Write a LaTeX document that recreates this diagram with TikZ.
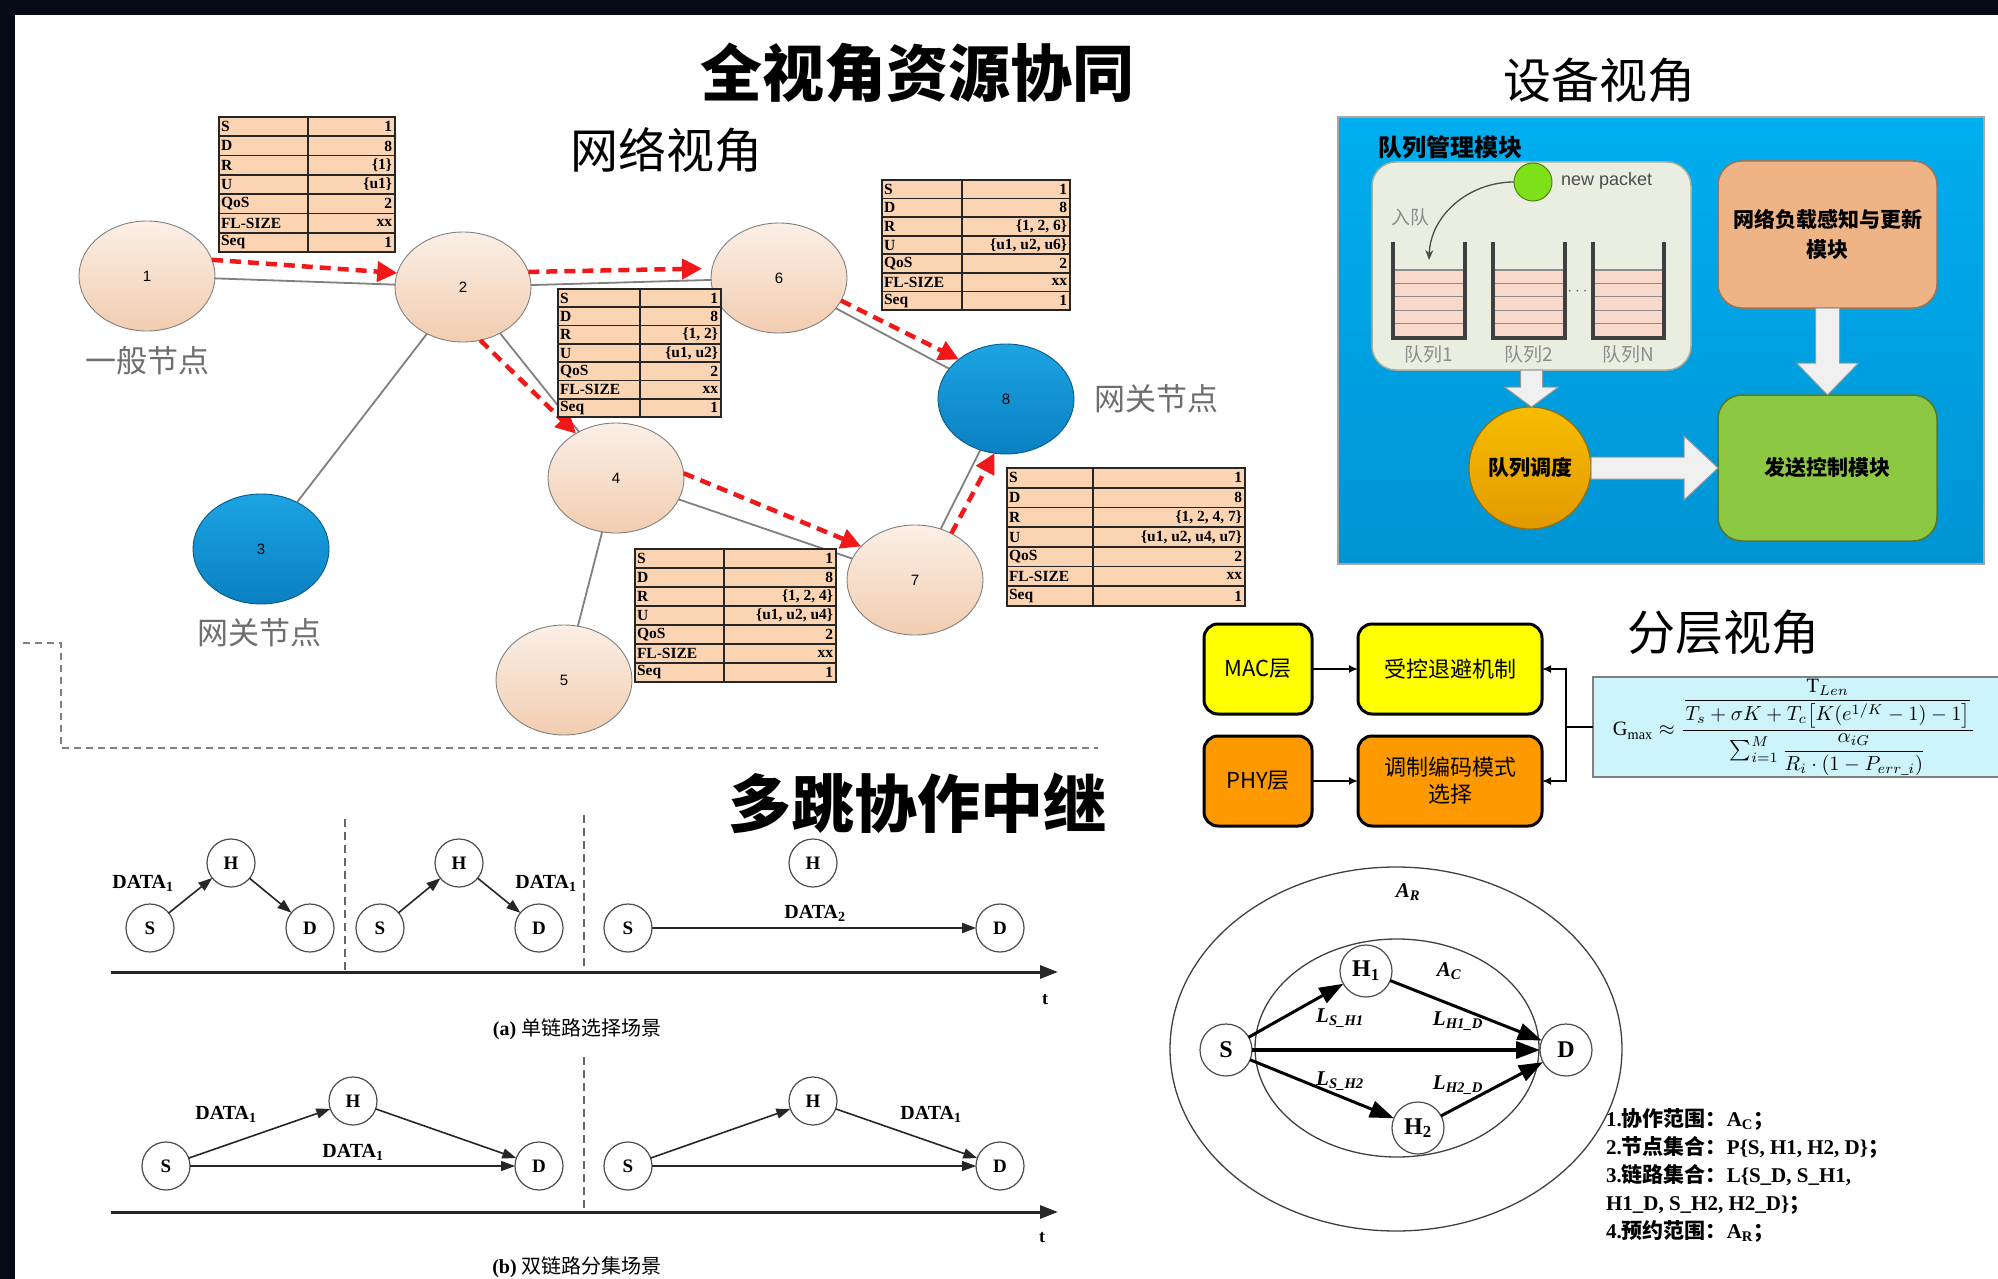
\documentclass[tikz,border=0pt]{standalone}
\usepackage{fontspec}
\usepackage{amsmath}
\usepackage{graphicx}
\setmainfont{Liberation Serif}
\setsansfont{Liberation Sans}
\newfontfamily\cjk{Noto Sans CJK SC}
\usetikzlibrary{shapes.geometric,arrows.meta,calc}

\definecolor{bgdark}{HTML}{060A16}
\definecolor{nodeTop}{HTML}{FBEFE6}
\definecolor{nodeBot}{HTML}{F2CDB0}
\definecolor{gwTop}{HTML}{1CA4E2}
\definecolor{gwBot}{HTML}{0A80C2}
\definecolor{flowred}{HTML}{F01818}
\definecolor{tabfill}{HTML}{FBD4B4}
\definecolor{panelTop}{HTML}{00AEEF}
\definecolor{panelBot}{HTML}{0094D4}
\definecolor{qfill}{HTML}{EAEEE0}
\definecolor{qdraw}{HTML}{A8AE9C}
\definecolor{stripe}{HTML}{F8D9CB}
\definecolor{loadbox}{HTML}{EEB486}
\definecolor{sendbox}{HTML}{8DC843}
\definecolor{goldTop}{HTML}{F7BC00}
\definecolor{goldBot}{HTML}{E29A00}
\definecolor{pktgreen}{HTML}{7EE019}
\definecolor{layY}{HTML}{FFFF00}
\definecolor{layO}{HTML}{FF9900}
\definecolor{formfill}{HTML}{CCF4FA}
\definecolor{labelgray}{HTML}{6E6E6E}

\newcommand\fs[1]{\fontsize{#1}{#1}\selectfont}
\newcommand\cb[1]{{\cjk\bfseries #1}}

% packet header table: name, x0, y0, x1, y1, column split, route set, user set
\newcommand\pkttab[8]{%
  \pgfmathsetmacro\tabW{#4-#2}\pgfmathsetmacro\tabH{#5-#3}\pgfmathsetmacro\tabR{(#5-#3)/7}%
  \node[tabcell, anchor=north west, minimum width=\tabW pt, minimum height=\tabH pt] (#1) at (#2,#3) {};
  \foreach \k in {1,...,6}{\draw[tabline] (#2,{#3+\k*\tabR}) -- (#4,{#3+\k*\tabR});}
  \draw[tabline] (#6,#3) -- (#6,#5);
  \draw[tabframe] (#1.north west) rectangle (#1.south east);
  \foreach \l/\v [count=\k] in {S/1, D/8, R/{#7}, U/{#8}, QoS/2, FL-SIZE/xx, Seq/1}{
    \node[tabtxt, anchor=west] at (#2+2,{#3+(\k-0.5)*\tabR}) {\l};
    \node[tabtxt, anchor=east] at (#4-3,{#3+(\k-0.5)*\tabR}) {\v};
  }
}

% queue stack: x0, x1
\newcommand\qstack[2]{%
  \fill[stripe] (#1,270) rectangle (#2,337);
  \foreach \k in {1,...,4}{\draw[black!45, line width=1.2pt] (#1,{270+\k*13.4}) -- (#2,{270+\k*13.4});}
  \draw[black!45, line width=1.2pt] (#1,270) -- (#2,270);
  \draw[black!75, line width=3.5pt] (#1,242) -- (#1,338) -- (#2,338) -- (#2,242);
}

\begin{document}
\begin{tikzpicture}[x=1pt,y=-1pt,
  every node/.style={inner sep=0pt, outer sep=0pt},
  netnode/.style={ellipse, draw=black!50, line width=0.9pt, minimum width=136pt, minimum height=110pt,
    top color=nodeTop, bottom color=nodeBot, font=\sffamily\fs{15}},
  gwnode/.style={netnode, top color=gwTop, bottom color=gwBot, draw=gwBot!70!black},
  link/.style={draw=black!50, line width=1.8pt},
  flow/.style={draw=flowred, line width=4.5pt, dash pattern=on 11pt off 7pt,
    -{Triangle[length=20pt,width=20pt]}},
  tabcell/.style={rectangle, fill=tabfill},
  tabline/.style={draw=black!85, line width=1.6pt},
  tabframe/.style={draw=black!85, line width=2pt},
  tabtxt/.style={font=\bfseries\fs{15.5}},
  graylabel/.style={font=\cjk\fs{31}, text=labelgray},
  blockarrow/.style={fill=white!94!black, draw=black!40, line width=1pt},
  layerbox/.style={rectangle, rounded corners=14pt, draw=black, line width=3pt, font=\cjk\fs{22}, align=center},
  hopnode/.style={circle, draw=black!70, line width=1.2pt, minimum size=48pt, fill=white, font=\bfseries\fs{19}},
  hop/.style={draw=black!85, line width=1.6pt, -{Triangle[length=14pt,width=10pt]}},
  timeaxis/.style={draw=black!85, line width=3pt, -{Triangle[length=18pt,width=13pt]}},
  coopnode/.style={circle, draw=black!70, line width=1.2pt, minimum size=52pt, fill=white, font=\bfseries\fs{24}},
  coop/.style={draw=black, line width=3pt, -{Triangle[length=24pt,width=17pt]}},
  datalbl/.style={font=\bfseries\fs{20}}
]
\useasboundingbox (0,0) rectangle (1998,1279);
\fill[white] (0,0) rectangle (1998,1279);
\fill[bgdark] (0,0) rectangle (1998,15);
\fill[bgdark] (0,0) rectangle (15,1279);

% ---------- headings ----------
\node[font=\cjk\bfseries\fs{62}] (title) at (917,73) {全视角资源协同};
\node[font=\cjk\fs{48}] (netview) at (666,150) {网络视角};
\node[font=\cjk\fs{48}] (devview) at (1599,80) {设备视角};
\node[font=\cjk\fs{48}] (layview) at (1723,632) {分层视角};
\node[font=\cjk\bfseries\fs{63}] (relay) at (917,803) {多跳协作中继};

% ---------- network view ----------
\node[netnode] (n1) at (147,276) {1};
\node[netnode] (n2) at (463,287) {2};
\node[netnode] (n6) at (779,278) {6};
\node[gwnode]  (n8) at (1006,399) {8};
\node[netnode] (n4) at (616,478) {4};
\node[netnode] (n7) at (915,580) {7};
\node[gwnode]  (n3) at (261,549) {3};
\node[netnode] (n5) at (564,680) {5};

\draw[link] (n1) -- (n2);
\draw[link] (n2) -- (n6);
\draw[link] (n2) -- (n3);
\draw[link] (n2) -- (n4);
\draw[link] (n6) -- (n8);
\draw[link] (n4) -- (n7);
\draw[link] (n7) -- (n8);
\draw[link] (n4) -- (n5);

\draw[flow] (n1.14) -- (n2.168);
\draw[flow] (n2.13) -- ([xshift=-10pt]n6.172);
\draw[flow] (n6.-20) -- (n8.140);
\draw[flow] (n2.-72) -- (n4.132);
\draw[flow] (n4.4) -- (n7.148);
\draw[flow] (n7.52) -- (n8.-102);

\node[graylabel] (lbl1) at (147,361) {一般节点};
\node[graylabel] (lbl8) at (1156,399) {网关节点};
\node[graylabel] (lbl3) at (259,633) {网关节点};

\pkttab{t1}{219}{117}{395}{252}{308}{\{1\}}{\{u1\}}
\pkttab{t2}{882}{180}{1070}{310}{962}{\{1, 2, 6\}}{\{u1, u2, u6\}}
\pkttab{t3}{558}{289}{721}{417}{640}{\{1, 2\}}{\{u1, u2\}}
\pkttab{t4}{1007}{468}{1245}{606}{1093}{\{1, 2, 4, 7\}}{\{u1, u2, u4, u7\}}
\pkttab{t5}{635}{549}{836}{682}{724}{\{1, 2, 4\}}{\{u1, u2, u4\}}

\draw[black!50, line width=1.5pt, dash pattern=on 7pt off 5pt] (23,643) -- (61,643) -- (61,748) -- (1098,748);

% ---------- device view ----------
\node[rectangle, draw=black!35, line width=1.5pt, top color=panelTop, bottom color=panelBot,
  minimum width=646pt, minimum height=447pt] (panel) at (1661,340.5) {};
\node[font=\cjk\bfseries\fs{24}, anchor=west] (qmtitle) at (1378,147) {队列管理模块};
\node[rectangle, rounded corners=24pt, fill=qfill, draw=qdraw, line width=1.5pt,
  minimum width=319pt, minimum height=208pt] (qbox) at (1531.5,266) {};
\qstack{1393}{1465}
\qstack{1493}{1565}
\qstack{1593}{1664}
\node[font=\fs{18}, text=black!60] (dots) at (1579,292) {$\cdots$};
\node[font=\cjk\fs{19}, text=black!45] (qlab1) at (1429,354) {队列1};
\node[font=\cjk\fs{19}, text=black!45] (qlab2) at (1529,354) {队列2};
\node[font=\cjk\fs{19}, text=black!45] (qlabN) at (1628,354) {队列N};
\node[circle, fill=pktgreen, draw=pktgreen!60!black, line width=1pt, minimum size=38pt] (newpkt) at (1533,182) {};
\node[font=\sffamily\fs{18}, text=black!70, anchor=west] (pktlab) at (1561,181) {new packet};
\node[font=\cjk\fs{19}, text=black!45] (enqlab) at (1410,217) {入队};
\coordinate (q1in) at (1429,260);
\draw[black!70, line width=1.3pt, -{Stealth[length=10pt,width=8pt]}] (newpkt.west) to[out=180,in=88] (q1in);

\node[rectangle, rounded corners=24pt, fill=loadbox, draw=loadbox!65!black, line width=1.5pt,
  minimum width=219pt, minimum height=147pt, align=center, font=\cjk\bfseries\fontsize{21}{30}\selectfont]
  (load) at (1827.5,234.5) {网络负载感知与更新\\模块};
\node[rectangle, rounded corners=24pt, fill=sendbox, draw=sendbox!60!black, line width=1.5pt,
  minimum width=219pt, minimum height=146pt, font=\cjk\bfseries\fs{21}] (send) at (1827.5,468) {发送控制模块};
\node[circle, top color=goldTop, bottom color=goldBot, draw=goldBot!70!black, line width=1.2pt,
  minimum size=122pt, font=\cjk\bfseries\fs{21}] (sched) at (1530,468) {队列调度};

% hollow block arrows between the modules
\path[blockarrow] let \p1=(qbox.south), \p2=(sched.north) in
  (\x1-11pt,\y1) -- (\x1+11pt,\y1) -- (\x1+11pt,\y2+20pt) -- (\x1+27pt,\y2+20pt) -- (\x1,\y2)
  -- (\x1-27pt,\y2+20pt) -- (\x1-11pt,\y2+20pt) -- cycle;
\path[blockarrow] let \p1=(sched.east), \p2=(send.west) in
  (\x1,\y1+11pt) -- (\x2-34pt,\y1+11pt) -- (\x2-34pt,\y1+32pt) -- (\x2,\y1) -- (\x2-34pt,\y1-32pt)
  -- (\x2-34pt,\y1-11pt) -- (\x1,\y1-11pt) -- cycle;
\path[blockarrow] let \p1=(load.south), \p2=(send.north) in
  (\x1-12pt,\y1) -- (\x1+12pt,\y1) -- (\x1+12pt,\y2+32pt) -- (\x1+31pt,\y2+32pt) -- (\x1,\y2)
  -- (\x1-31pt,\y2+32pt) -- (\x1-12pt,\y2+32pt) -- cycle;

% ---------- layered view ----------
\node[layerbox, fill=layY, minimum width=108pt, minimum height=90pt] (mac) at (1258,669) {MAC层};
\node[layerbox, fill=layY, minimum width=184pt, minimum height=90pt] (backoff) at (1450,669) {受控退避机制};
\node[layerbox, fill=layO, minimum width=108pt, minimum height=90pt] (phy) at (1258,781) {PHY层};
\node[layerbox, fill=layO, minimum width=184pt, minimum height=90pt, font=\cjk\fontsize{22}{27}\selectfont] (mcs) at (1450,781) {调制编码模式\\选择};
\draw[line width=2.2pt, -{Latex[length=9pt,width=8pt]}] (mac) -- (backoff);
\draw[line width=2.2pt, -{Latex[length=9pt,width=8pt]}] (phy) -- (mcs);

\node[rectangle, fill=formfill, draw=black!50, line width=1.2pt, minimum width=420pt, minimum height=100pt,
  anchor=west] (fbox) at (1593,727) {};
\node (gform) at (1794,727) {\resizebox{362pt}{!}{$\mathrm{G}_{\max}\approx
  \dfrac{\dfrac{\mathrm{T}_{Len}}{T_s+\sigma K+T_c\big[K(e^{1/K}-1)-1\big]}}
        {\sum_{i=1}^{M}\dfrac{\alpha_{iG}}{R_i\cdot(1-P_{err\_i})}}$}};
\coordinate (brk) at (1566,727);
\draw[line width=2.2pt] (fbox.west) -- (brk);
\draw[line width=2.2pt, -{Latex[length=9pt,width=8pt]}] (brk) |- (backoff.east);
\draw[line width=2.2pt, -{Latex[length=9pt,width=8pt]}] (brk) |- (mcs.east);

% ---------- multi-hop relay: (a) single link selection ----------
\draw[black!60, line width=1.3pt, dash pattern=on 8pt off 5pt] (345,819) -- (345,972);
\draw[black!60, line width=1.3pt, dash pattern=on 8pt off 5pt] (584,815) -- (584,972);
\node[hopnode] (Ha1) at (231,863) {H};
\node[hopnode] (Sa1) at (150,928) {S};
\node[hopnode] (Da1) at (310,928) {D};
\node[hopnode] (Ha2) at (459,863) {H};
\node[hopnode] (Sa2) at (380,928) {S};
\node[hopnode] (Da2) at (539,928) {D};
\node[hopnode] (Ha3) at (813,863) {H};
\node[hopnode] (Sa3) at (628,928) {S};
\node[hopnode] (Da3) at (1000,928) {D};
\draw[hop] (Sa1) -- (Ha1);
\draw[hop] (Ha1) -- (Da1);
\draw[hop] (Sa2) -- (Ha2);
\draw[hop] (Ha2) -- (Da2);
\draw[hop, line width=2.6pt] (Sa3) -- (Da3);
\node[datalbl] (dla1) at (143,883) {DATA\textsubscript{1}};
\node[datalbl] (dla2) at (546,883) {DATA\textsubscript{1}};
\node[datalbl] (dla3) at (815,913) {DATA\textsubscript{2}};
\coordinate (taS) at (111,972);
\coordinate (taE) at (1058,972);
\draw[timeaxis] (taS) -- (taE);
\node[font=\bfseries\fs{18}] (tla) at (1045,1000) {t};
\node[font=\fs{20}] (capa) at (577,1029) {\textbf{(a)} {\cjk 单链路选择场景}};

% ---------- (b) dual link diversity ----------
\draw[black!60, line width=1.3pt, dash pattern=on 8pt off 5pt] (584,1057) -- (584,1212);
\node[hopnode] (Sb1) at (166,1166) {S};
\node[hopnode] (Hb1) at (353,1101) {H};
\node[hopnode] (Db1) at (539,1166) {D};
\node[hopnode] (Sb2) at (628,1166) {S};
\node[hopnode] (Hb2) at (813,1101) {H};
\node[hopnode] (Db2) at (1000,1166) {D};
\draw[hop] (Sb1) -- (Hb1);
\draw[hop] (Hb1) -- (Db1);
\draw[hop] (Sb1) -- (Db1);
\draw[hop] (Sb2) -- (Hb2);
\draw[hop] (Hb2) -- (Db2);
\draw[hop] (Sb2) -- (Db2);
\node[datalbl] (dlb1) at (226,1114) {DATA\textsubscript{1}};
\node[datalbl] (dlb2) at (353,1152) {DATA\textsubscript{1}};
\node[datalbl] (dlb3) at (931,1114) {DATA\textsubscript{1}};
\coordinate (tbS) at (111,1212);
\coordinate (tbE) at (1058,1212);
\draw[timeaxis] (tbS) -- (tbE);
\node[font=\bfseries\fs{18}] (tlb) at (1042,1238) {t};
\node[font=\fs{20}] (capb) at (577,1267) {\textbf{(b)} {\cjk 双链路分集场景}};

% ---------- cooperation range ----------
\draw[black!75, line width=1.3pt] (1396,1049) ellipse [x radius=226pt, y radius=182pt];
\draw[black!75, line width=1.3pt] (1397,1048) ellipse [x radius=142pt, y radius=109pt];
\node[font=\bfseries\itshape\fs{21}] (AR) at (1408,892) {A\textsubscript{R}};
\node[font=\bfseries\itshape\fs{21}] (AC) at (1449,971) {A\textsubscript{C}};
\node[coopnode] (cS) at (1226,1050) {S};
\node[coopnode] (cH1) at (1366,971) {H\textsubscript{1}};
\node[coopnode] (cH2) at (1418,1128) {H\textsubscript{2}};
\node[coopnode] (cD) at (1566,1050) {D};
\draw[coop] (cS) -- (cH1);
\draw[coop] (cH1) -- (cD);
\draw[coop, line width=3.5pt] (cS) -- (cD);
\draw[coop] (cS) -- (cH2);
\draw[coop] (cH2) -- (cD);
\node[font=\bfseries\itshape\fs{21}] (lsh1) at (1340,1018) {L\textsubscript{S\_H1}};
\node[font=\bfseries\itshape\fs{21}] (lh1d) at (1458,1021) {L\textsubscript{H1\_D}};
\node[font=\bfseries\itshape\fs{21}] (lsh2) at (1340,1081) {L\textsubscript{S\_H2}};
\node[font=\bfseries\itshape\fs{21}] (lh2d) at (1458,1085) {L\textsubscript{H2\_D}};
\node[anchor=west, align=left, font=\bfseries\fontsize{21}{28}\selectfont] (coopnotes) at (1606,1175)
  {1.\cb{协作范围：}A\textsubscript{C}\cb{；}\\
   2.\cb{节点集合：}P\{S, H1, H2, D\}\cb{；}\\
   3.\cb{链路集合：}L\{S\_D, S\_H1,\\
   H1\_D, S\_H2, H2\_D\}\cb{；}\\
   4.\cb{预约范围：}A\textsubscript{R}\cb{；}};
\end{tikzpicture}
\end{document}
